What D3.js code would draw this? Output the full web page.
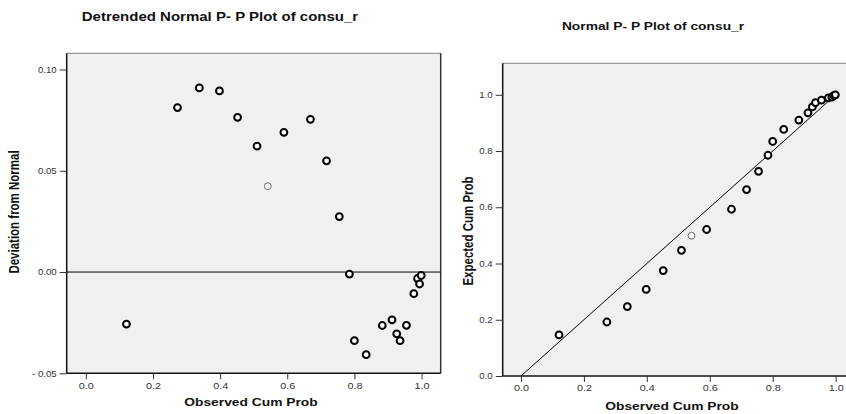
<!DOCTYPE html>
<html>
<head>
<meta charset="utf-8">
<script src="https://cdn.jsdelivr.net/npm/d3@7"></script>
<style>
  body { margin: 0; background: #fff; }
  svg { display: block; font-family: "Liberation Sans", Arial, sans-serif; }
  .tick line { stroke: #333; }
  .tick text { fill: #333; }
</style>
</head>
<body>
<svg width="846" height="414"></svg>
<script>
// Observed cumulative probability of each case (shared by both plots)
const observed = [0.121, 0.273, 0.338, 0.398, 0.452, 0.510, 0.542, 0.590, 0.669, 0.717, 0.755,
                  0.785, 0.800, 0.835, 0.883, 0.912, 0.926, 0.936, 0.955, 0.977, 0.988, 0.994, 0.999];
// Deviation from normal (detrended plot)
const deviation = [-0.0257, 0.0812, 0.0909, 0.0894, 0.0764, 0.0622, 0.0424, 0.0690, 0.0754, 0.0549, 0.0274,
                   -0.0010, -0.0339, -0.0408, -0.0264, -0.0236, -0.0305, -0.0339, -0.0263, -0.0107, -0.0032, -0.0059, -0.0017];
// Expected cumulative probability (normal P-P plot)
const expected = [0.146, 0.192, 0.247, 0.308, 0.375, 0.447, 0.499, 0.521, 0.593, 0.663, 0.728,
                  0.785, 0.834, 0.877, 0.910, 0.936, 0.957, 0.972, 0.981, 0.989, 0.992, 0.997, 1.000];
// the one point drawn with a light outline
const lightPoint = 6;

// Tick values and labels
const xTicks = [0, 0.2, 0.4, 0.6, 0.8, 1.0];
const xTickLabels = ["0.0", "0.2", "0.4", "0.6", "0.8", "1.0"];
const devTicks = [-0.05, 0, 0.05, 0.10];
const devTickLabels = ["- 0.05", "0.00", "0.05", "0.10"];
const expTicks = [0, 0.2, 0.4, 0.6, 0.8, 1.0];
const expTickLabels = ["0.0", "0.2", "0.4", "0.6", "0.8", "1.0"];

const svg = d3.select("svg");

// the picture is a bit wider than tall, stretch horizontal text to match
function stretch(sel, k) {
  sel.each(function() {
    const w = this.getComputedTextLength();
    d3.select(this).attr("textLength", w * k).attr("lengthAdjust", "spacingAndGlyphs");
  });
}

function drawFrame(g, x0, x1, y0, y1) {
  g.append("rect")
    .attr("x", x0).attr("y", y0)
    .attr("width", x1 - x0).attr("height", y1 - y0)
    .attr("fill", "#f0f0f0");
  g.append("line").attr("x1", x0).attr("x2", x1).attr("y1", y0).attr("y2", y0)
    .attr("stroke", "#999").attr("stroke-width", 1.2);
  g.append("line").attr("x1", x1).attr("x2", x1).attr("y1", y0).attr("y2", y1)
    .attr("stroke", "#333").attr("stroke-width", 1.5);
  g.append("line").attr("x1", x0).attr("x2", x0).attr("y1", y0).attr("y2", y1)
    .attr("stroke", "#111").attr("stroke-width", 1.5);
  g.append("line").attr("x1", x0).attr("x2", x1).attr("y1", y1).attr("y2", y1)
    .attr("stroke", "#111").attr("stroke-width", 1.5);
}

function drawAxes(g, x, y, yTicks, yLabels) {
  const [x0] = x.range();
  const [y1] = y.range();
  const ax = g.append("g")
    .attr("transform", `translate(0,${y1})`)
    .call(d3.axisBottom(x).tickValues(xTicks).tickSize(6).tickPadding(3)
      .tickFormat((d, i) => xTickLabels[i]));
  ax.select(".domain").remove();
  ax.selectAll("text").attr("font-size", 9).call(stretch, 1.2);

  const ay = g.append("g")
    .attr("transform", `translate(${x0},0)`)
    .call(d3.axisLeft(y).tickValues(yTicks).tickSize(7).tickPadding(3)
      .tickFormat((d, i) => yLabels[i]));
  ay.select(".domain").remove();
  ay.selectAll("text").attr("font-size", 8.4).call(stretch, 1.15);
}

function drawPoints(g, xs, ys, x, y) {
  g.append("g")
    .selectAll("circle")
    .data(xs)
    .enter()
    .append("circle")
      .attr("cx", d => x(d))
      .attr("cy", (d, i) => y(ys[i]))
      .attr("r", 3.4)
      .attr("fill", "#fff")
      .attr("stroke", (d, i) => i === lightPoint ? "#666" : "#000")
      .attr("stroke-width", (d, i) => i === lightPoint ? 1 : 2);
}

function title(g, txt, cx, cy, size, k) {
  g.append("text")
    .attr("x", cx).attr("y", cy)
    .attr("text-anchor", "middle")
    .attr("font-size", size)
    .attr("font-weight", "bold")
    .attr("fill", "#111")
    .text(txt)
    .call(stretch, k);
}

// rotated title, widened across the page like the rest of the text
function yTitle(g, txt, cx, cy) {
  g.append("text")
    .attr("transform", `translate(${cx},${cy}) rotate(-90) scale(1,1.2)`)
    .attr("text-anchor", "middle")
    .attr("dy", "0.35em")
    .attr("font-size", 11.5)
    .attr("font-weight", "bold")
    .attr("fill", "#111")
    .text(txt);
}

// ---- Left: detrended normal P-P plot ----
const left = svg.append("g");
const lx = d3.scaleLinear().domain([-0.057, 1.057]).range([66.7, 440.7]);
const ly = d3.scaleLinear().domain([-0.05, 0.108]).range([373.3, 53.3]);

drawFrame(left, 66.7, 440.7, 53.3, 373.3);
left.append("line")
  .attr("x1", lx.range()[0]).attr("x2", lx.range()[1])
  .attr("y1", ly(0)).attr("y2", ly(0))
  .attr("stroke", "#000").attr("stroke-width", 1);
drawAxes(left, lx, ly, devTicks, devTickLabels);
drawPoints(left, observed, deviation, lx, ly);
title(left, "Detrended Normal P- P Plot of consu_r", 220, 21, 12.5, 1.2);
title(left, "Observed Cum Prob", 251, 406, 11.5, 1.2);
yTitle(left, "Deviation from Normal", 14, 212);

// ---- Right: normal P-P plot ----
const right = svg.append("g");
const rx = d3.scaleLinear().domain([-0.058, 1.058]).range([502.7, 853.9]);
const ry = d3.scaleLinear().domain([0, 1.112]).range([376, 63.3]);

drawFrame(right, 502.7, 853.9, 63.3, 376);
right.append("line")
  .attr("x1", rx(0)).attr("x2", rx(1))
  .attr("y1", ry(0)).attr("y2", ry(1))
  .attr("stroke", "#000").attr("stroke-width", 1);
drawAxes(right, rx, ry, expTicks, expTickLabels);
drawPoints(right, observed, expected, rx, ry);
title(right, "Normal P- P Plot of consu_r", 653, 30, 11.5, 1.2);
title(right, "Observed Cum Prob", 672, 410, 11.5, 1.2);
yTitle(right, "Expected Cum Prob", 468, 231);
</script>
</body>
</html>
